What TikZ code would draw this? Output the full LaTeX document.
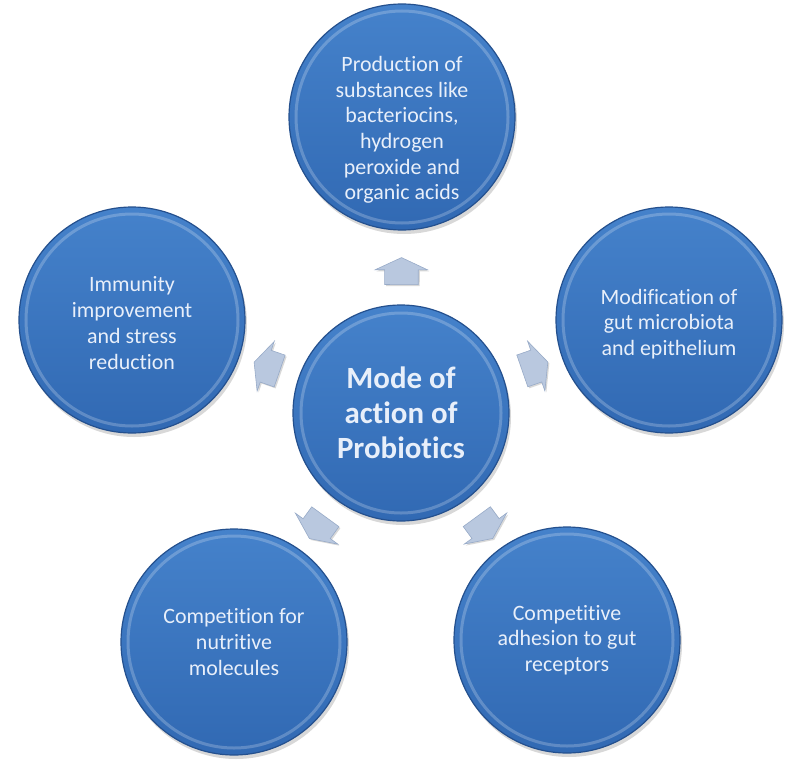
\documentclass[tikz,border=0pt]{standalone}
\usepackage{fontspec}
\setmainfont{Carlito}[Ligatures=NoCommon]
\usetikzlibrary{shapes.arrows,shadows,calc}
\definecolor{ballTop}{HTML}{4582CB}
\definecolor{ballBot}{HTML}{3169B3}
\definecolor{ballEdge}{HTML}{24508E}
\definecolor{ballText}{HTML}{E8EFFA}
\definecolor{arrowFill}{HTML}{B9C8DF}
\definecolor{arrowEdge}{HTML}{98ABC8}
\begin{document}
\begin{tikzpicture}[x=1bp,y=-1bp,
  balltext/.style={text=ballText, align=center, font=\fontsize{22}{25.8}\selectfont},
  ball/.style={circle, draw=ballEdge, line width=1.2bp, top color=ballTop, bottom color=ballBot,
    balltext, inner sep=0pt, minimum size=#1,
    drop shadow={shadow xshift=2bp, shadow yshift=-4bp, opacity=.25, fill=black!60}},
  ring/.style={draw=white, draw opacity=.22, line width=3bp},
  arrowbox/.style={single arrow, draw=arrowEdge, line width=.6bp, fill=arrowFill,
    minimum height=27bp, inner xsep=0pt, inner ysep=16.5bp,
    single arrow head extend=9.5bp, single arrow tip angle=130,
    sloped, allow upside down,
    drop shadow={shadow xshift=1.5bp, shadow yshift=-1.5bp, opacity=.3, fill=black!50}}]
\useasboundingbox[fill=white] (0,0) rectangle (801,778);

\node[ball=216bp, font=\fontsize{31}{35}\selectfont\bfseries] (c) at (401,413) {Mode of\\action of\\Probiotics};
\node[ball=226bp, label={[balltext, yshift=-13bp]center:{Production of\\substances like\\bacteriocins,\\hydrogen\\peroxide and\\organic acids}}] (t) at (402,117) {};
\node[ball=226bp, label={[balltext, yshift=-3bp]center:{Immunity\\improvement\\and stress\\reduction}}] (l) at (132,320) {};
\node[ball=226bp, label={[balltext, yshift=-4bp]center:{Modification of\\gut microbiota\\and epithelium}}] (r) at (669,320) {};
\node[ball=226bp] (bl) at (234,642) {Competition for\\nutritive\\molecules};
\node[ball=226bp] (br) at (567,640) {Competitive\\adhesion to gut\\receptors};

\foreach \n/\rr in {c/100, t/106, l/106, r/106, bl/106, br/106}
  \draw[ring] (\n.center) circle (\rr bp);

\foreach \n in {t, l, r, bl, br}
  \path (c.center) -- ($(c)!276bp!(\n)$) node[midway, arrowbox] (a\n) {};
\end{tikzpicture}
\end{document}
